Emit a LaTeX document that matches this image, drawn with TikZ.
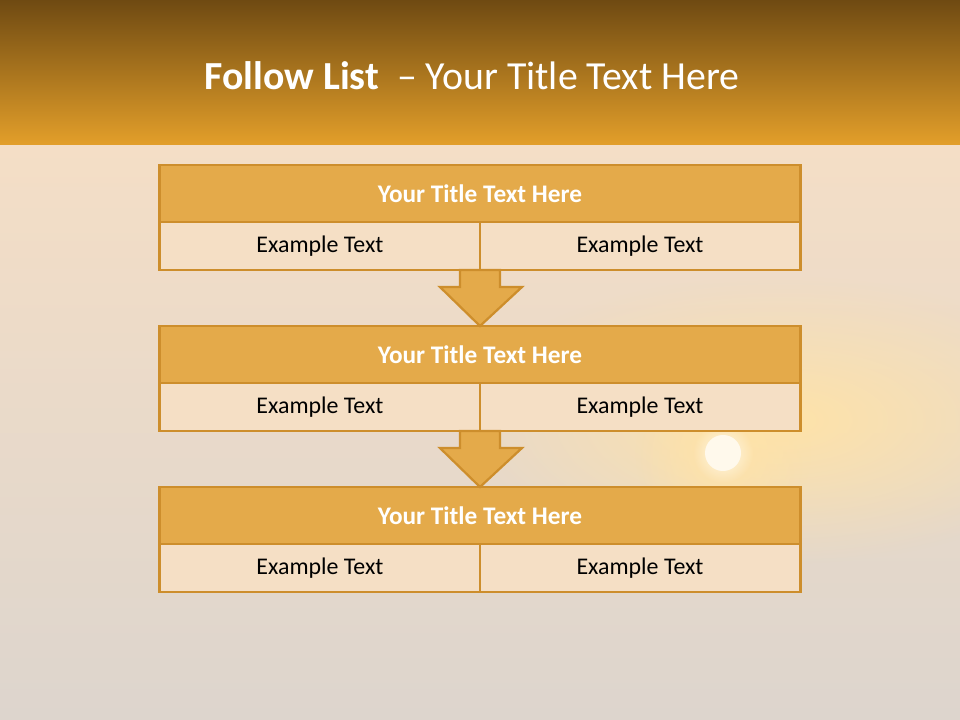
\documentclass[tikz,border=0pt]{standalone}
\usepackage{fontspec}
\setmainfont{Carlito}
\usepackage{xcolor}
\usetikzlibrary{positioning,calc,fadings}
\definecolor{headtop}{HTML}{6F4A12}
\definecolor{headbot}{HTML}{E39F2A}
\definecolor{bgtop}{HTML}{F4DEC6}
\definecolor{bgbot}{HTML}{DDD5CD}
\definecolor{glowcol}{HTML}{FFE3A8}
\definecolor{suncol}{HTML}{FFF9EC}
\definecolor{barfill}{HTML}{E4AA4A}
\definecolor{cellfill}{HTML}{F5DFC5}
\definecolor{edgecol}{HTML}{CD8E2C}
\tikzfading[name=glowfade, inner color=transparent!0, outer color=transparent!100]
\tikzset{
  titlebar/.style={draw=edgecol, fill=barfill, line width=2.1pt, minimum width=16cm,
    minimum height=1.425cm, inner sep=0pt, outer sep=0pt, text=white,
    font=\fontsize{18}{21}\selectfont\bfseries},
  cell/.style={draw=edgecol, fill=cellfill, line width=2.1pt, minimum width=8cm,
    minimum height=1.2cm, inner sep=0pt, outer sep=0pt, text=black,
    font=\fontsize{17}{20}\selectfont},
  flowarrow/.style={draw=edgecol, fill=barfill, line width=1.6pt, line join=miter},
  headtext/.style={text=white, font=\fontsize{28.3}{32}\selectfont}
}
\begin{document}
\begin{tikzpicture}[x=0.025cm, y=-0.025cm]
  \useasboundingbox (0,0) rectangle (960,720);
  \shade[top color=bgtop, bottom color=bgbot] (0,145) rectangle (960,720);
  \begin{scope}
    \clip (0,145) rectangle (960,720);
    \fill[glowcol, path fading=glowfade] (780,420) ellipse [x radius=8cm, y radius=3.6cm];
    \fill[glowcol, path fading=glowfade] (723,453) circle [radius=2.2cm];
  \end{scope}
  \fill[suncol, path fading=glowfade] (723,453) circle [radius=0.75cm];
  \fill[suncol] (723,453) circle [radius=0.45cm];
  \shade[top color=headtop, bottom color=headbot] (0,0) rectangle (960,145);
  \node[headtext] (head) at (472,76) {\textbf{Follow List}\ \ – Your Title Text Here};
  \foreach \i/\y in {1/193.5,2/354.5,3/515.5} {
    \node[titlebar] (t\i) at (480,\y) {Your Title Text Here};
    \node[cell, below right=0pt and 0pt of t\i.south west] (a\i) {Example Text};
    \node[cell, below left=0pt and 0pt of t\i.south east] (b\i) {Example Text};
  }
  \foreach \i/\j in {1/2,2/3}
    \draw[flowarrow] ($(a\i.south east)+(-20,0)$) -- ++(0,17) -- ++(-20,0)
      -- (t\j.north) -- ++(42,-39) -- ++(-22,0) -- ++(0,-17) -- cycle;
\end{tikzpicture}
\end{document}
